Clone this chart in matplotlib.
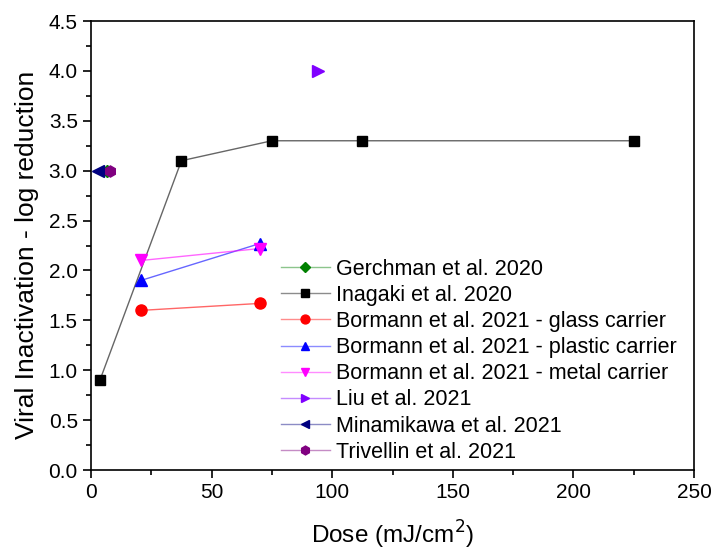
import matplotlib
matplotlib.use("Agg")
import matplotlib.pyplot as plt
from matplotlib.ticker import MultipleLocator

plt.rcParams["font.family"] = ["Liberation Sans", "DejaVu Sans"]

# dose (mJ/cm2) and log reduction
gerchman_x = [6.5]
gerchman_y = [3.0]
inagaki_x = [3.7, 37.5, 75, 112.5, 225]
inagaki_y = [0.9, 3.1, 3.3, 3.3, 3.3]
glass_x = [20.7, 70]
glass_y = [1.6, 1.67]
plastic_x = [20.7, 70]
plastic_y = [1.9, 2.27]
metal_x = [20.7, 70]
metal_y = [2.1, 2.22]
liu_x = [94]
liu_y = [4.0]
minamikawa_x = [3]
minamikawa_y = [3.0]
trivellin_x = [8]
trivellin_y = [3.0]

series = [
    ("Gerchman et al. 2020", gerchman_x, gerchman_y, "#008000", "D", 6.5),
    ("Inagaki et al. 2020", inagaki_x, inagaki_y, "#000000", "s", 7),
    ("Bormann et al. 2021 - glass carrier", glass_x, glass_y, "#ff0000", "o", 8),
    ("Bormann et al. 2021 - plastic carrier", plastic_x, plastic_y, "#0000ff", "^", 8),
    ("Bormann et al. 2021 - metal carrier", metal_x, metal_y, "#ff00ff", "v", 8),
    ("Liu et al. 2021", liu_x, liu_y, "#8000ff", ">", 8),
    ("Minamikawa et al. 2021", minamikawa_x, minamikawa_y, "#000080", "<", 8),
    ("Trivellin et al. 2021", trivellin_x, trivellin_y, "#800080", "h", 8),
]

fig = plt.figure(figsize=(7.13, 5.53), dpi=100)
ax = fig.add_axes([0.1276, 0.150, 0.8458, 0.812])

for label, x, y, c, m, ms in series:
    ax.plot(x, y, color=c, alpha=0.6, lw=1, zorder=2)
    ax.plot(x, y, ls="none", marker=m, ms=ms, color=c, mec=c, zorder=3)
    # legend proxy
    ax.plot([], [], color=c, lw=1, marker=m, ms=ms * 0.8, mfc=c, mec=c,
            label=label)

leg = ax.legend(loc="upper left", bbox_to_anchor=(0.3, 0.49), frameon=False,
                fontsize=15.5, handlelength=2.3, handletextpad=0.3,
                labelspacing=0.24, borderaxespad=0)
# faded lines in legend, solid markers
for h in leg.get_lines():
    c = h.get_color()
    h.set_color(matplotlib.colors.to_rgba(c, 0.45))
    h.set_markerfacecolor(c)
    h.set_markeredgecolor(c)

ax.set_xlim(0, 250)
ax.set_ylim(0, 4.5)
ax.xaxis.set_major_locator(MultipleLocator(50))
ax.xaxis.set_minor_locator(MultipleLocator(25))
ax.yaxis.set_major_locator(MultipleLocator(0.5))
ax.yaxis.set_minor_locator(MultipleLocator(0.25))
ax.yaxis.set_major_formatter(matplotlib.ticker.FormatStrFormatter("%.1f"))
ax.tick_params(which="major", direction="out", length=6, width=1.2,
               labelsize=15)
ax.tick_params(which="minor", direction="out", length=3.5, width=1.2)
for s in ax.spines.values():
    s.set_linewidth(1.2)

ax.set_xlabel("Dose (mJ/cm$^2$)", fontsize=17.5, labelpad=12)
ax.set_ylabel("Viral Inactivation - log reduction", fontsize=19)
ax.yaxis.set_label_coords(-0.086, 0.479)

fig.savefig("out.png", dpi=100)
